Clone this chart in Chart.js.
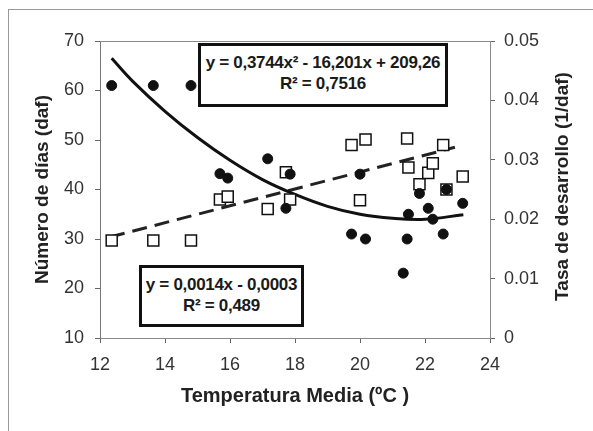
<!DOCTYPE html>
<html>
<head>
<meta charset="utf-8">
<script src="https://cdn.jsdelivr.net/npm/chart.js@4/dist/chart.umd.min.js"></script>
<style>
  body { margin: 0; background: #fff; }
  #wrap { position: relative; width: 593px; height: 431px; overflow: hidden; }
  #frame { position: absolute; left: 8px; top: 9px; width: 620px; height: 460px;
           border-left: 1px solid #999; border-top: 1px solid #999; }
  #chart { position: absolute; left: 0; top: 0; }
  .eq { position: absolute; box-sizing: border-box; border: 3px solid #111; background: #fff;
        font: bold 17px "Liberation Sans", Arial, sans-serif; letter-spacing: -0.3px;
        color: #1a1a1a; text-align: center; line-height: 21px; padding-top: 6px; white-space: nowrap; }
</style>
</head>
<body>
<div id="wrap">
  <div id="frame"></div>
  <canvas id="chart" width="593" height="431"></canvas>
  <div class="eq" style="left:198px; top:43px; width:250px; height:64px;">
    y = 0,3744x² - 16,201x + 209,26<br>R² = 0,7516
  </div>
  <div class="eq" style="left:139px; top:265px; width:165px; height:62px;">
    y = 0,0014x - 0,0003<br>R² = 0,489
  </div>
</div>
<script>
// Temperatura media (ºC) of each observation
const temperatura = [12.36, 13.64, 14.8, 15.69, 15.93, 17.16, 17.72, 17.85, 19.74, 20.0,
                     20.17, 21.33, 21.45, 21.49, 21.83, 22.1, 22.24, 22.56, 22.66, 23.16];
// Número de días (daf), left axis
const dias = [61, 61, 61, 43.2, 42.3, 46.2, 36.2, 43.1, 31, 43.1,
              30, 23.1, 30, 35, 39.2, 36.2, 34, 31, 40, 37.2];
// Tasa de desarrollo (1/daf), right axis
const tasa = [0.0164, 0.0164, 0.0164, 0.0233, 0.0238, 0.0217, 0.0279, 0.0233, 0.0325, 0.0232,
              0.0334, 0.0434, 0.0336, 0.0287, 0.0259, 0.0278, 0.0294, 0.0325, 0.0250, 0.0272];

// polynomial trend
const curvaX = [12.36, 13, 14, 15, 16, 17, 18, 19, 20, 21, 22, 23.18];
const curvaY = [66.5, 61.9, 55.8, 50.5, 45.9, 42.0, 39.0, 36.6, 35.0, 34.2, 34.0, 34.9];
// linear trend on the rate
const rectaX = [12.31, 22.92];
const rectaY = [0.0170, 0.0321];

const xTicks = [12, 14, 16, 18, 20, 22, 24];
const rightTitle = "Tasa de desarrollo (1/daf)";

const pts = (xs, ys) => xs.map((x, i) => ({ x: x, y: ys[i] }));

const tickFont = { family: "'Liberation Sans', Arial, sans-serif", size: 18 };
const titleFont = (size) => ({ family: "'Liberation Sans', Arial, sans-serif", size: size, weight: "bold" });

// top border of the plot area + right axis title (reads bottom to top, like the left one)
const plotBox = {
  id: "plotBox",
  afterDraw(chart) {
    const { ctx, chartArea: a } = chart;
    ctx.save();
    ctx.strokeStyle = "#8a8a8a";
    ctx.lineWidth = 1;
    ctx.beginPath();
    ctx.moveTo(a.left, a.top + 0.5);
    ctx.lineTo(a.right, a.top + 0.5);
    ctx.stroke();

    ctx.translate(563, (a.top + a.bottom) / 2 - 3);
    ctx.rotate(-Math.PI / 2);
    ctx.font = "bold 19px 'Liberation Sans', Arial, sans-serif";
    ctx.fillStyle = "#222";
    ctx.textAlign = "center";
    ctx.textBaseline = "middle";
    ctx.fillText(rightTitle, 0, 0);
    ctx.restore();
  }
};

new Chart(document.getElementById("chart"), {
  type: "scatter",
  data: {
    datasets: [
      {
        label: "días",
        data: pts(temperatura, dias),
        yAxisID: "y",
        pointStyle: "circle",
        pointRadius: 5,
        backgroundColor: "#111",
        borderColor: "#111",
        borderWidth: 1,
        order: 0
      },
      {
        label: "tasa",
        data: pts(temperatura, tasa),
        yAxisID: "y1",
        pointStyle: "rect",
        pointRadius: 7.8,
        backgroundColor: "#fff",
        borderColor: "#111",
        borderWidth: 1.5,
        order: 1
      },
      {
        label: "polinómica",
        data: pts(curvaX, curvaY),
        yAxisID: "y",
        showLine: true,
        tension: 0.4,
        pointRadius: 0,
        borderColor: "#111",
        borderWidth: 3,
        order: 2
      },
      {
        label: "lineal",
        data: pts(rectaX, rectaY),
        yAxisID: "y1",
        showLine: true,
        pointRadius: 0,
        borderColor: "#222",
        borderWidth: 3,
        borderDash: [15, 8],
        order: 3
      }
    ]
  },
  options: {
    responsive: false,
    animation: false,
    events: [],
    layout: { padding: { top: 41, left: 0, right: 0, bottom: 0 } },
    plugins: { legend: { display: false }, tooltip: { enabled: false } },
    scales: {
      x: {
        type: "linear",
        min: 12, max: 24,
        afterFit: s => { s.height = 93; },
        afterBuildTicks: s => { s.ticks = xTicks.map(v => ({ value: v })); },
        grid: { drawOnChartArea: false, drawTicks: true, tickLength: 5, color: "#666" },
        border: { color: "#8a8a8a" },
        ticks: { font: tickFont, color: "#333", padding: 11 },
        title: { display: true, text: "Temperatura Media (ºC )", font: titleFont(20), color: "#222",
                 padding: { top: 0, bottom: 23 } }
      },
      y: {
        position: "left",
        min: 10, max: 70,
        afterFit: s => { s.width = 100; },
        grid: { drawOnChartArea: false, drawTicks: true, tickLength: 5, color: "#666" },
        border: { color: "#777" },
        ticks: { stepSize: 10, font: tickFont, color: "#333", padding: 11 },
        title: { display: true, text: "Número de días (daf)", font: titleFont(19), color: "#222",
                 padding: { top: 31, bottom: 0 } }
      },
      y1: {
        position: "right",
        min: 0, max: 0.05,
        afterFit: s => { s.width = 103; },
        grid: { drawOnChartArea: false, drawTicks: true, tickLength: 5, color: "#666" },
        border: { color: "#8a8a8a" },
        ticks: { stepSize: 0.01, font: tickFont, color: "#333", padding: 9,
                 callback: v => v === 0 ? "0" : v.toFixed(2) },
        title: { display: false }
      }
    }
  },
  plugins: [plotBox]
});
</script>
</body>
</html>
